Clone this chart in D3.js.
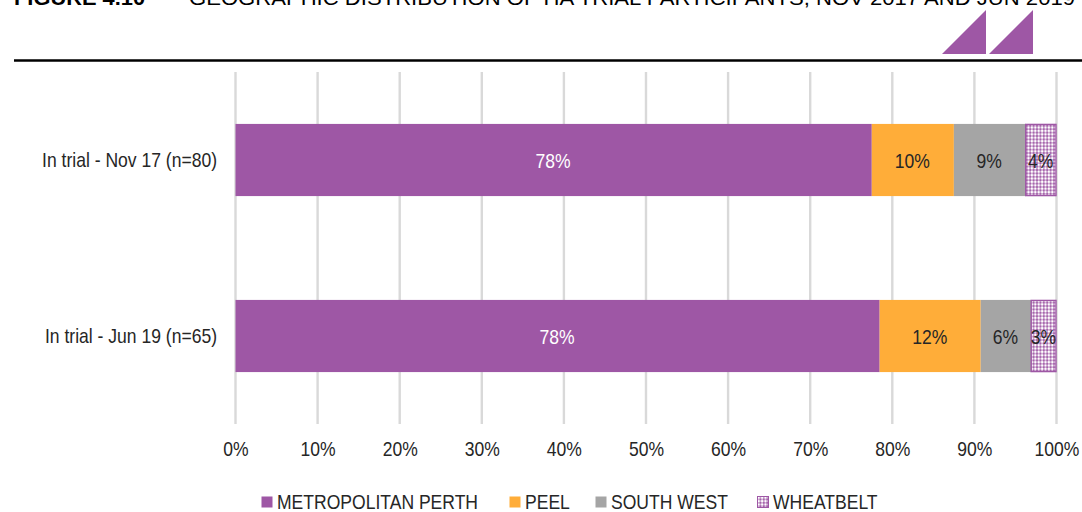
<!DOCTYPE html>
<html><head><meta charset="utf-8">
<script src="https://cdnjs.cloudflare.com/ajax/libs/d3/7.8.5/d3.min.js"></script>
<style>
html,body{margin:0;padding:0;background:#fff;overflow:hidden}
text{font-family:"Liberation Sans",Arial,sans-serif}
</style></head><body><div id="c"></div>
<script>
const categories=["In trial - Nov 17 (n=80)","In trial - Jun 19 (n=65)"];
const seriesNames=["METROPOLITAN PERTH","PEEL","SOUTH WEST","WHEATBELT"];
const metroPerth=[77.5,78.46];
const peel=[10,12.31];
const southWest=[8.75,6.15];
const wheatbelt=[3.75,3.08];
const labelsMetro=["78%","78%"];
const labelsPeel=["10%","12%"];
const labelsSouth=["9%","6%"];
const labelsWheat=["4%","3%"];
const xTicks=[0,10,20,30,40,50,60,70,80,90,100];
const titleFigure="FIGURE 4.10";
const titleText="GEOGRAPHIC DISTRIBUTION OF HA TRIAL PARTICIPANTS, NOV 2017 AND JUN 2019";

const purple="#9e57a5",orange="#ffad39",grey="#a5a5a5",gridc="#d9d9d9",ink="#262626";
const NARROW=0.835;
// the reference uses a condensed face: squeeze real text horizontally
function squeeze(sel,f){
  sel.each(function(){
    const l=this.getComputedTextLength();
    d3.select(this).attr("textLength",l*(f||NARROW)).attr("lengthAdjust","spacingAndGlyphs");
  });
}
const svg=d3.select("#c").append("svg").attr("width",1082).attr("height",512).style("display","block");
const defs=svg.append("defs");
const p=defs.append("pattern").attr("id","wheat").attr("patternUnits","userSpaceOnUse").attr("width",3.4).attr("height",3.4);
p.append("rect").attr("width",3.4).attr("height",3.4).attr("fill",purple);
p.append("circle").attr("cx",1.7).attr("cy",1.7).attr("r",1.4).attr("fill","#fff");

// header
svg.append("text").attr("x",14).attr("y",5).attr("font-size",21).attr("font-weight",700).attr("fill","#000").text(titleFigure).call(squeeze,1.04);
svg.append("text").attr("x",189).attr("y",5).attr("font-size",21).attr("fill","#000")
  .attr("textLength",886).attr("lengthAdjust","spacingAndGlyphs").text(titleText);
svg.append("line").attr("x1",14).attr("x2",1082).attr("y1",60.5).attr("y2",60.5).attr("stroke","#000").attr("stroke-width",2.4);
svg.selectAll("path.tri").data([942,989]).join("path").attr("class","tri").attr("fill",purple)
  .attr("d",d=>d3.line()([[d,54],[d+44,10],[d+44,54]])+"Z");

const x=d3.scaleLinear().domain([0,100]).range([235.5,1056.5]);
const y=d3.scaleBand().domain(categories).range([72,424]).paddingInner(0.59).paddingOuter(0.295);

// grid
svg.append("g").selectAll("line").data(xTicks).join("line")
  .attr("x1",d=>x(d)).attr("x2",d=>x(d)).attr("y1",72).attr("y2",424)
  .attr("stroke",gridc).attr("stroke-width",2.4);

// bars
const rows=categories.map((c,i)=>({cat:c,[seriesNames[0]]:metroPerth[i],[seriesNames[1]]:peel[i],[seriesNames[2]]:southWest[i],[seriesNames[3]]:wheatbelt[i]}));
const stacked=d3.stack().keys(seriesNames)(rows);
const fills=[purple,orange,grey,"url(#wheat)"];
const txt=[labelsMetro,labelsPeel,labelsSouth,labelsWheat];
const txtCol=["#fff",ink,ink,ink];
stacked.forEach((s,k)=>{
  svg.append("g").selectAll("rect").data(s).join("rect")
    .attr("x",d=>x(d[0])).attr("y",d=>y(d.data.cat)+(k===3?0.5:0))
    .attr("width",d=>x(d[1])-x(d[0])-(k===3?0.5:0)).attr("height",y.bandwidth()-(k===3?1:0))
    .attr("fill",fills[k])
    .attr("stroke",k===3?purple:"none").attr("stroke-width",k===3?1.4:0);
});
stacked.forEach((s,k)=>{
  svg.append("g").selectAll("text").data(s).join("text")
    .attr("x",d=>x((d[0]+d[1])/2)-0.5).attr("y",d=>y(d.data.cat)+y.bandwidth()/2+7.5)
    .attr("text-anchor","middle").attr("font-size",21).attr("fill",txtCol[k])
    .text((d,i)=>txt[k][i]).call(squeeze);
});

// category labels
const yAxis=svg.append("g").attr("transform","translate(217,0.5)").call(d3.axisLeft(y).tickSize(0).tickPadding(0));
yAxis.select(".domain").remove();
yAxis.selectAll("text").attr("font-size",21).attr("fill",ink).style("font-family",'"Liberation Sans",Arial,sans-serif').call(squeeze);

// value axis
const xAxis=svg.append("g").attr("transform","translate(0,424)").call(d3.axisBottom(x).tickValues(xTicks).tickFormat(d=>d+"%").tickSize(0).tickPadding(17));
xAxis.select(".domain").remove();
xAxis.selectAll("text").attr("font-size",21).attr("fill",ink).style("font-family",'"Liberation Sans",Arial,sans-serif').call(squeeze);

// legend
const legendX=[261,509,595,757];
const lg=svg.append("g").selectAll("g").data(seriesNames).join("g").attr("transform",(d,i)=>`translate(${legendX[i]},496)`);
lg.append("rect").attr("x",0.5).attr("y",0.5).attr("width",11).attr("height",11).attr("fill",(d,i)=>fills[i]).attr("stroke",(d,i)=>i===3?purple:"none");
lg.append("text").attr("x",16).attr("y",12.5).attr("font-size",21).attr("fill",ink).text(d=>d).call(squeeze);
</script></body></html>
